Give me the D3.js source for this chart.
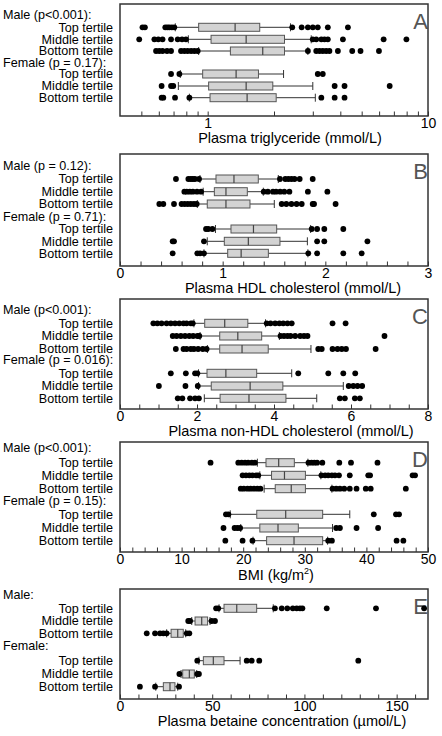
<!DOCTYPE html>
<html>
<head>
<meta charset="utf-8">
<script src="https://cdn.jsdelivr.net/npm/d3@7"></script>
<style>
  html, body { margin: 0; padding: 0; background: #fff; }
  svg { display: block; font-family: "Liberation Sans", Arial, Helvetica, sans-serif; }
</style>
</head>
<body>
<script>
// ---------------- DATA ----------------
const tertileLabels = ["Top tertile", "Middle tertile", "Bottom tertile"];
const panelLetters = ["A", "B", "C", "D", "E"];

// Panel A: plasma triglyceride (mmol/L), log scale
const trigGroups = ["Male (p<0.001):", "Female (p = 0.17):"];
const trigTitle = "Plasma triglyceride (mmol/L)";
const trigMajorTicks = [1, 10];
const trigMinorTicks = [0.5, 0.6, 0.7, 0.8, 0.9, 2, 3, 4, 5, 6, 7, 8, 9];
// [lower whisker, Q1, median, Q3, upper whisker]
const trigStats = [
  [0.713, 0.910, 1.332, 1.723, 2.376],
  [0.817, 1.036, 1.495, 2.232, 2.951],
  [0.910, 1.268, 1.778, 2.232, 2.85],
  [0.751, 0.949, 1.346, 1.70, 2.21],
  [0.736, 1.01, 1.495, 1.975, 3.0],
  [0.826, 1.025, 1.51, 2.046, 3.08]
];
const trigOutliers = [
  [0.506, 0.519, 0.642, 0.656, 0.670, 0.688, 0.706, 2.42, 2.67, 2.85, 3.0, 3.16, 3.51, 4.33],
  [0.489, 0.573, 0.597, 0.624, 0.682, 0.731, 0.765, 0.797, 2.998, 3.11, 3.28, 3.39, 3.51, 4.11, 6.29, 7.98],
  [0.583, 0.603, 0.624, 0.654, 0.682, 0.757, 0.784, 0.811, 0.841, 0.870, 0.901, 2.85, 3.11, 3.22, 3.33, 3.45, 3.57, 3.90, 4.53, 4.94, 5.99],
  [0.682, 0.744, 3.16, 3.33],
  [0.618, 0.682, 0.698, 3.77, 4.18, 6.70],
  [0.618, 0.629, 0.711, 0.826, 3.28, 3.77, 4.18]
];

// Panel B: plasma HDL cholesterol (mmol/L)
const hdlGroups = ["Male (p = 0.12):", "Female (p = 0.71):"];
const hdlTitle = "Plasma HDL cholesterol (mmol/L)";
const hdlMajorTicks = [0, 1, 2, 3];
const hdlMinorTicks = [0.2, 0.4, 0.6, 0.8, 1.2, 1.4, 1.6, 1.8, 2.2, 2.4, 2.6, 2.8];
const hdlStats = [
  [0.779, 0.935, 1.11, 1.347, 1.542],
  [0.81, 0.919, 1.032, 1.24, 1.396],
  [0.753, 0.85, 1.032, 1.266, 1.503],
  [0.93, 1.081, 1.30, 1.526, 1.857],
  [0.85, 1.016, 1.25, 1.558, 1.825],
  [0.818, 1.049, 1.18, 1.445, 1.83]
];
const hdlOutliers = [
  [0.545, 0.666, 0.69, 0.71, 0.73, 0.77, 1.558, 1.61, 1.64, 1.67, 1.70, 1.75, 1.877],
  [0.627, 0.65, 0.68, 0.71, 0.75, 0.79, 1.40, 1.44, 1.49, 1.52, 1.56, 1.60, 1.65, 1.83, 2.02],
  [0.383, 0.422, 0.526, 0.60, 0.63, 0.66, 0.69, 0.72, 0.747, 1.575, 1.62, 1.67, 1.72, 1.77, 1.877, 1.89, 2.10],
  [0.838, 0.86, 0.90, 1.867, 1.92, 1.99, 2.175],
  [0.513, 0.526, 0.818, 1.92, 1.99, 2.41],
  [0.513, 0.753, 0.78, 0.818, 1.834, 1.92, 2.175, 2.354]
];

// Panel C: plasma non-HDL cholesterol (mmol/L)
const nonHdlGroups = ["Male (p<0.001):", "Female (p = 0.016):"];
const nonHdlTitle = "Plasma non-HDL cholesterol (mmol/L)";
const nonHdlMajorTicks = [0, 2, 4, 6, 8];
const nonHdlMinorTicks = [0.5, 1, 1.5, 2.5, 3, 3.5, 4.5, 5, 5.5, 6.5, 7, 7.5];
const nonHdlStats = [
  [1.92, 2.2, 2.72, 3.32, 3.78],
  [2.08, 2.59, 3.06, 3.68, 4.14],
  [2.27, 2.59, 3.17, 3.85, 4.96],
  [2.04, 2.26, 2.75, 3.55, 4.46],
  [2.04, 2.37, 3.38, 4.23, 5.80],
  [2.19, 2.60, 3.35, 4.31, 5.11]
];
const nonHdlOutliers = [
  [0.866, 0.97, 1.08, 1.21, 1.32, 1.43, 1.54, 1.65, 1.73, 1.84, 1.89, 3.81, 3.91, 4.03, 4.14, 4.24, 4.35, 4.46, 5.52, 5.86],
  [1.37, 1.47, 1.58, 1.69, 1.80, 1.90, 2.01, 2.06, 4.17, 4.26, 4.35, 4.43, 4.55, 4.68, 4.78, 4.87, 6.87],
  [1.45, 1.65, 1.73, 1.84, 1.92, 2.03, 2.15, 2.25, 5.15, 5.24, 5.52, 5.65, 5.76, 5.87, 6.64],
  [1.32, 1.71, 1.95, 2.01, 4.63, 5.41, 5.80, 6.11],
  [1.01, 1.70, 2.02, 5.94, 6.06, 6.17, 6.29],
  [1.50, 1.62, 1.82, 1.95, 2.05, 5.71, 5.84, 6.10, 6.23]
];

// Panel D: BMI (kg/m2)
const bmiGroups = ["Male (p<0.001):", "Female (p = 0.15):"];
const bmiMajorTicks = [0, 10, 20, 30, 40, 50];
const bmiMinorTicks = [2, 4, 6, 8, 12, 14, 16, 18, 22, 24, 26, 28, 32, 34, 36, 38, 42, 44, 46, 48];
const bmiStats = [
  [22.3, 23.7, 25.76, 28.3, 30.5],
  [22.7, 24.6, 26.7, 30.1, 32.6],
  [23.4, 25.2, 27.8, 30.1, 34.4],
  [17.9, 22.2, 26.9, 32.9, 37.3],
  [19.6, 22.7, 25.65, 28.95, 34.5],
  [21.6, 23.8, 28.25, 32.9, 33.7]
];
const bmiOutliers = [
  [14.7, 19.2, 19.75, 20.3, 20.8, 21.4, 21.9, 30.6, 31.1, 31.55, 32.0, 32.85, 35.6, 37.5, 41.8],
  [19.9, 20.45, 21.0, 21.5, 22.1, 22.45, 32.7, 33.3, 33.8, 34.4, 34.9, 35.55, 37.3, 40.3, 40.6, 47.5, 47.9],
  [19.6, 20.1, 20.7, 21.2, 21.75, 22.3, 22.8, 34.5, 35.1, 35.7, 36.4, 37.3, 38.4, 39.9, 40.7, 46.4],
  [17.2, 17.6, 41.2, 44.8, 45.3],
  [16.8, 18.6, 19.05, 19.5, 35.1, 35.7, 38.4, 41.9],
  [17.1, 19.9, 21.5, 33.8, 34.4, 44.9, 46.0]
];

// Panel E: plasma betaine concentration (µmol/L)
const betaineGroups = ["Male:", "Female:"];
const betaineTitle = "Plasma betaine concentration (\u00b5mol/L)";
const betaineMajorTicks = [0, 50, 100, 150];
const betaineMinorTicks = [10, 20, 30, 40, 60, 70, 80, 90, 110, 120, 130, 140, 160];
const betaineStats = [
  [53.7, 56.4, 63.3, 74.1, 83.1],
  [38.9, 40.7, 44.3, 47.5, 48.8],
  [25.3, 27.7, 31.3, 34.3, 35.6],
  [42.8, 45.2, 50.6, 56.4, 65.1],
  [33.1, 34.0, 37.6, 40.3, 41.6],
  [19.4, 23.5, 27.1, 29.8, 31.3]
];
const betaineOutliers = [
  [52.1, 53.3, 84.0, 87.7, 90.7, 93.7, 95.8, 97.6, 98.9, 112.1, 138.8, 164.9],
  [37.0, 38.0, 49.7, 51.5],
  [14.5, 19.0, 21.7, 23.5, 25.3, 36.2, 37.6],
  [41.9, 68.7, 71.4, 75.5, 129.2],
  [32.2, 41.9, 42.8],
  [10.8, 19.0, 32.0]
];

// ---------------- LAYOUT ----------------
const W = 442, H = 736;
const PL = 120, PR = 428;

const panels = [
  { letter: panelLetters[0], top: 4, h: 112, scale: d3.scaleLog().domain([0.4, 10]).range([PL, PR]),
    groups: trigGroups, stats: trigStats, outliers: trigOutliers, title: trigTitle, titleX: 290, titleDy: 26.5,
    majors: trigMajorTicks, minors: trigMinorTicks, fmt: d3.format("d"),
    rows: [11, 23.3, 35.3, 47, 59, 70, 82, 93.7] },
  { letter: panelLetters[1], top: 154, h: 112, scale: d3.scaleLinear().domain([0, 3]).range([PL, PR]),
    groups: hdlGroups, stats: hdlStats, outliers: hdlOutliers, title: hdlTitle, titleX: 293, titleDy: 26.5,
    majors: hdlMajorTicks, minors: hdlMinorTicks, fmt: d3.format("d"),
    rows: [12, 25, 37.7, 50, 62.5, 75, 87.3, 99.3] },
  { letter: panelLetters[2], top: 299, h: 110, scale: d3.scaleLinear().domain([0, 8]).range([PL, PR]),
    groups: nonHdlGroups, stats: nonHdlStats, outliers: nonHdlOutliers, title: nonHdlTitle, titleX: 291, titleDy: 26.5,
    majors: nonHdlMajorTicks, minors: nonHdlMinorTicks, fmt: d3.format("d"),
    rows: [11, 24.3, 37, 50, 61, 74.3, 87, 99.3] },
  { letter: panelLetters[3], top: 442, h: 110, scale: d3.scaleLinear().domain([0, 50]).range([PL, PR]),
    groups: bmiGroups, stats: bmiStats, outliers: bmiOutliers, title: null, titleX: 276, titleDy: 27.5,
    majors: bmiMajorTicks, minors: bmiMinorTicks, fmt: d3.format("d"),
    rows: [6, 20.7, 33.3, 46.7, 59, 72.3, 86, 98.7] },
  { letter: panelLetters[4], top: 589, h: 110, scale: d3.scaleLinear().domain([0, 167]).range([PL, PR]),
    groups: betaineGroups, stats: betaineStats, outliers: betaineOutliers, title: betaineTitle, titleX: 282, titleDy: 26.5,
    majors: betaineMajorTicks, minors: betaineMinorTicks, fmt: d3.format("d"),
    rows: [6, 19.3, 32, 44.3, 56.7, 71.7, 85, 97.7] }
];

const svg = d3.select("body").append("svg").attr("width", W).attr("height", H);

const LABEL_FS = 12.6, TICK_FS = 14, TITLE_FS = 14.5;
const BOX_H = 8;

function drawPanel(p) {
  const g = svg.append("g").attr("transform", `translate(0,${p.top})`);
  const x = p.scale;

  // panel letter (behind the marks)
  g.append("text").attr("x", 428).attr("y", 25).attr("text-anchor", "end")
    .attr("font-size", 22).attr("fill", "#555").text(p.letter);

  // group header labels
  p.groups.forEach((lab, gi) => {
    g.append("text").attr("x", 3).attr("y", p.rows[gi * 4] + 4.4)
      .attr("font-size", LABEL_FS).attr("fill", "#000").text(lab);
  });
  // tertile labels
  for (let k = 0; k < 6; k++) {
    const ri = k < 3 ? k + 1 : k + 2;
    g.append("text").attr("x", 113).attr("y", p.rows[ri] + 4.4)
      .attr("text-anchor", "end").attr("font-size", LABEL_FS).attr("fill", "#000")
      .text(tertileLabels[k % 3]);
  }

  // axes (ticks inward)
  const axisG = g.append("g").attr("transform", `translate(0,${p.h})`);
  axisG.call(d3.axisBottom(x).tickValues(p.minors).tickSize(-4.5).tickFormat(""));
  const majG = g.append("g").attr("transform", `translate(0,${p.h})`);
  majG.call(d3.axisBottom(x).tickValues(p.majors).tickSize(-4.5).tickPadding(2.5).tickFormat(p.fmt));
  [axisG, majG].forEach(a => {
    a.select(".domain").remove();
    a.selectAll(".tick line").attr("stroke", "#333").attr("stroke-width", 1);
  });
  majG.selectAll(".tick text").attr("font-size", TICK_FS).attr("fill", "#000")
    .attr("font-family", "Liberation Sans, Arial, sans-serif");

  // boxes
  const bx = g.append("g");
  p.stats.forEach((s, k) => {
    const ri = k < 3 ? k + 1 : k + 2;
    const yc = p.rows[ri];
    const [wl, q1, med, q3, wh] = s;
    bx.append("line").attr("x1", x(wl)).attr("x2", x(q1)).attr("y1", yc).attr("y2", yc)
      .attr("stroke", "#333").attr("stroke-width", 1);
    bx.append("line").attr("x1", x(q3)).attr("x2", x(wh)).attr("y1", yc).attr("y2", yc)
      .attr("stroke", "#333").attr("stroke-width", 1);
    [wl, wh].forEach(v => {
      bx.append("line").attr("x1", x(v)).attr("x2", x(v)).attr("y1", yc - BOX_H / 2).attr("y2", yc + BOX_H / 2)
        .attr("stroke", "#333").attr("stroke-width", 1);
    });
    bx.append("rect").attr("x", x(q1)).attr("y", yc - BOX_H / 2)
      .attr("width", x(q3) - x(q1)).attr("height", BOX_H)
      .attr("fill", "#d3d3d3").attr("stroke", "#555").attr("stroke-width", 1);
    bx.append("line").attr("x1", x(med)).attr("x2", x(med)).attr("y1", yc - BOX_H / 2).attr("y2", yc + BOX_H / 2)
      .attr("stroke", "#444").attr("stroke-width", 1.2);
    g.append("g").selectAll("circle").data(p.outliers[k]).join("circle")
      .attr("cx", d => x(d)).attr("cy", yc).attr("r", 2.9).attr("fill", "#000");
  });

  // frame
  g.append("rect").attr("x", PL).attr("y", 0).attr("width", PR - PL).attr("height", p.h)
    .attr("fill", "none").attr("stroke", "#333").attr("stroke-width", 1.5);

  // axis title
  const t = g.append("text").attr("x", p.titleX).attr("y", p.h + p.titleDy)
    .attr("text-anchor", "middle").attr("font-size", TITLE_FS).attr("fill", "#000");
  if (p.title) {
    t.text(p.title);
  } else {
    t.append("tspan").text("BMI (kg/m");
    t.append("tspan").attr("dy", -6).attr("font-size", 9).text("2");
    t.append("tspan").attr("dy", 6).text(")");
  }
}

panels.forEach(drawPanel);
</script>
</body>
</html>
